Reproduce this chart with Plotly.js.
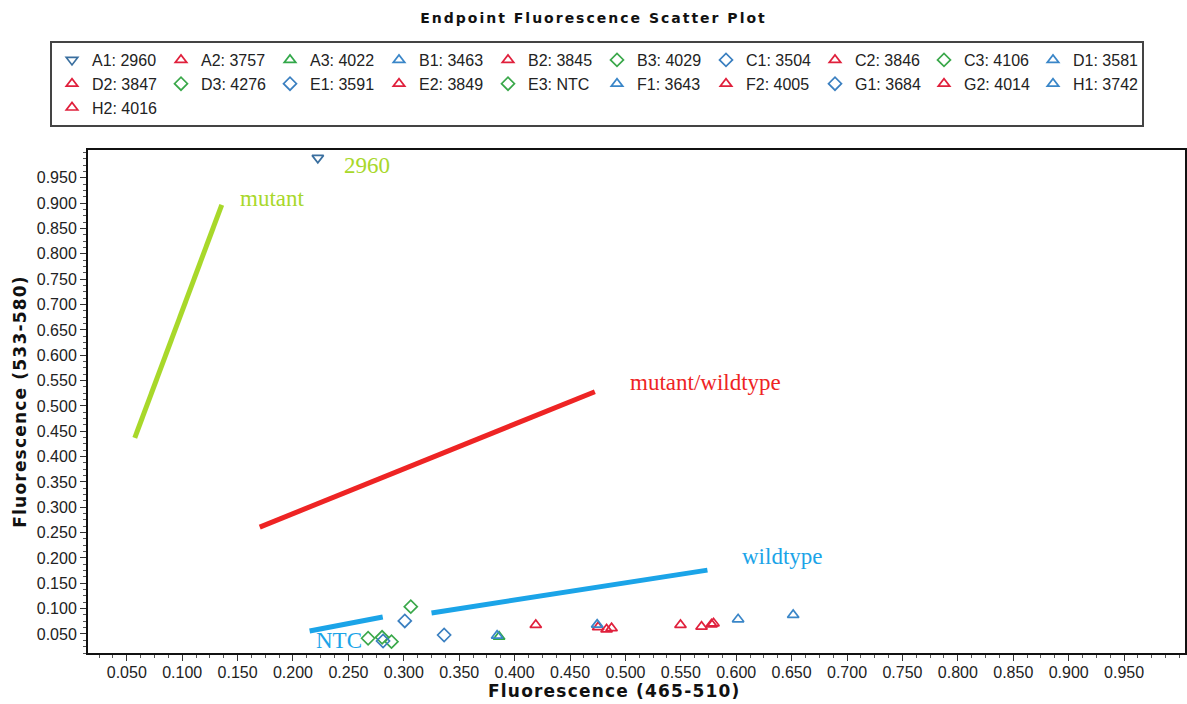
<!DOCTYPE html>
<html>
<head>
<meta charset="utf-8">
<script src="https://cdn.plot.ly/plotly-3.0.1.min.js"></script>
<style>
  html, body { margin: 0; padding: 0; background: #fff; }
  #chart { width: 1187px; height: 704px; }
  .gtitle { letter-spacing: 2px; }
  .ytitle { letter-spacing: 1.2px; }
</style>
</head>
<body>
<div id="chart"></div>
<script>
// ---- data ----
const wells      = ['A1','A2','A3','B1','B2','B3','C1','C2','C3','D1','D2','D3','E1','E2','E3','F1','F2','G1','G2','H1','H2'];
const sampleIds  = ['2960','3757','4022','3463','3845','4029','3504','3846','4106','3581','3847','4276','3591','3849','NTC','3643','4005','3684','4014','3742','4016'];
const fluor465   = [0.2224,0.4191,0.3860,0.3842,0.4754,0.2804,0.3009,0.4830,0.3063,0.4745,0.4875,0.2889,0.2813,0.5497,0.2678,0.6017,0.5687,0.3364,0.5777,0.6514,0.5795];
const fluor533   = [0.9895,0.0678,0.0447,0.0467,0.0635,0.0435,0.0757,0.0590,0.1040,0.0685,0.0614,0.0349,0.0362,0.0678,0.0416,0.0790,0.0645,0.0480,0.0690,0.0876,0.0710];
const wellGroup  = ['down','redTri','greenTri','blueTri','redTri','greenDia','blueDia','redTri','greenDia','blueTri','redTri','greenDia','blueDia','redTri','greenDia','blueTri','redTri','blueDia','redTri','blueTri','redTri'];

// axis tick values / labels
const tickValues = [0.05,0.10,0.15,0.20,0.25,0.30,0.35,0.40,0.45,0.50,0.55,0.60,0.65,0.70,0.75,0.80,0.85,0.90,0.95];
const tickLabels = ['0.050','0.100','0.150','0.200','0.250','0.300','0.350','0.400','0.450','0.500','0.550','0.600','0.650','0.700','0.750','0.800','0.850','0.900','0.950'];

// hand-drawn cluster guide lines
const mutantLineX   = [0.0572, 0.1357];
const mutantLineY   = [0.437, 0.8967];
const hetLineX      = [0.170, 0.4724];
const hetLineY      = [0.261, 0.528];
const wtLine1X      = [0.215, 0.281];
const wtLine1Y      = [0.056, 0.0836];
const wtLine2X      = [0.325, 0.574];
const wtLine2Y      = [0.0915, 0.176];

// text labels
const noteText = ['2960','mutant','mutant/wildtype','wildtype','NTC'];
const noteX    = [0.2667, 0.181, 0.5726, 0.6414, 0.2418];
const noteY    = [0.9737, 0.9095, 0.5454, 0.202, 0.038];

// ---- styles ----
const groupStyle = {
  down:     {symbol: 'triangle-down-open', color: '#3a6f9f'},
  redTri:   {symbol: 'triangle-up-open',   color: '#e0203c'},
  greenTri: {symbol: 'triangle-up-open',   color: '#32a84a'},
  blueTri:  {symbol: 'triangle-up-open',   color: '#3a86c8'},
  greenDia: {symbol: 'diamond-open',       color: '#3aa84a'},
  blueDia:  {symbol: 'diamond-open',       color: '#3a7fc0'}
};
const noteColor = ['#a8d82a','#a8d82a','#ee2424','#1ba4e8','#1ba4e8'];

const traces = [];
const guide = (x, y, c) => ({x: x, y: y, mode: 'lines', type: 'scatter', showlegend: false, hoverinfo: 'skip',
                             line: {color: c, width: 5}});
traces.push(guide(mutantLineX, mutantLineY, '#a8d82a'));
traces.push(guide(hetLineX, hetLineY, '#ee2424'));
traces.push(guide(wtLine1X, wtLine1Y, '#1ba4e8'));
traces.push(guide(wtLine2X, wtLine2Y, '#1ba4e8'));

wells.forEach((w, i) => {
  const st = groupStyle[wellGroup[i]];
  traces.push({
    x: [fluor465[i]], y: [fluor533[i]],
    name: w + ': ' + sampleIds[i],
    type: 'scatter', mode: 'markers',
    marker: {symbol: st.symbol, color: st.color, size: 10, line: {width: 1.7, color: st.color}}
  });
});

const annotations = noteText.map((t, i) => ({
  x: noteX[i], y: noteY[i], xref: 'x', yref: 'y', text: t, showarrow: false,
  xanchor: 'center', yanchor: 'middle',
  font: {family: 'Liberation Serif, serif', size: 23, color: noteColor[i]}
}));
// x-axis title (placed as in the reference, slightly left of the plot centre)
annotations.push({
  x: (614 - 88) / 1097, y: (653 - 691) / 503, xref: 'paper', yref: 'paper', showarrow: false,
  xanchor: 'center', yanchor: 'middle',
  text: '<span style="letter-spacing:1.2px"><b>Fluorescence (465-510)</b></span>',
  font: {family: 'DejaVu Sans, sans-serif', size: 17, color: '#111'}
});

const axisCommon = {
  showgrid: false, zeroline: false,
  showline: true, linecolor: '#111', linewidth: 2, mirror: true,
  ticks: 'outside', ticklen: 6, tickcolor: '#333', tickwidth: 1,
  tickmode: 'array', tickvals: tickValues, ticktext: tickLabels,
  minor: {tickmode: 'linear', dtick: 0.0125, tick0: 0.0375, ticks: 'outside', ticklen: 3, tickcolor: '#555', tickwidth: 1},
  tickfont: {family: 'Liberation Sans, Arial, sans-serif', size: 16, color: '#222'}
};

const layout = {
  width: 1187, height: 704,
  paper_bgcolor: '#fff', plot_bgcolor: '#fff',
  margin: {l: 88, r: 2, t: 150, b: 51},
  title: {
    text: '<b>Endpoint Fluorescence Scatter Plot</b>',
    font: {family: 'DejaVu Sans, sans-serif', size: 14, color: '#111'},
    x: 0.5, xanchor: 'center', y: 1 - 18/704, yref: 'container', yanchor: 'middle'
  },
  xaxis: Object.assign({}, axisCommon, {
    range: [0.015, 1.005],
    ticklabelstandoff: -2
  }),
  yaxis: Object.assign({}, axisCommon, {
    range: [0.0125, 1.005],
    title: {text: '<b>Fluorescence (533-580)</b>', standoff: 6,
            font: {family: 'DejaVu Sans, sans-serif', size: 17, color: '#111'}}
  }),
  showlegend: true,
  legend: {
    orientation: 'h', xref: 'container', yref: 'container',
    x: 50/1187, y: 1 - 41/704, xanchor: 'left', yanchor: 'top',
    bordercolor: '#444', borderwidth: 2, bgcolor: '#fff',
    entrywidth: 64, entrywidthmode: 'pixels', itemwidth: 30,
    font: {family: 'Liberation Sans, Arial, sans-serif', size: 16, color: '#222'},
    tracegroupgap: 0
  },
  annotations: annotations
};

Plotly.newPlot('chart', traces, layout, {displayModeBar: false, staticPlot: true});
</script>
</body>
</html>
